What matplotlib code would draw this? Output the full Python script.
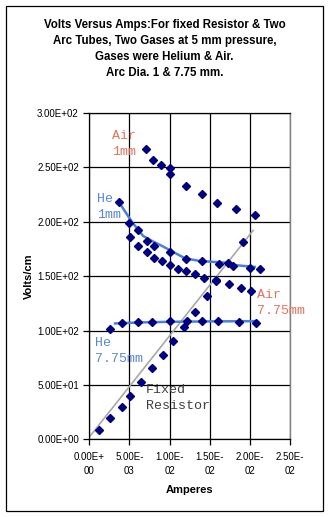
import numpy as np
import matplotlib
matplotlib.use("Agg")
import matplotlib.pyplot as plt
from matplotlib.ticker import FuncFormatter, MultipleLocator
from matplotlib.patches import Rectangle

# values (amperes, volts/cm)
air_1mm_x = [0.00703, 0.00794, 0.00893, 0.01005, 0.01005, 0.01203, 0.01402, 0.01593, 0.01829, 0.0206]
air_1mm_v = [267.1, 257.0, 251.8, 249.7, 244.2, 233.2, 225.8, 216.9, 212.1, 206.6]

he_1mm_x = [0.00364, 0.00496, 0.00608, 0.00716, 0.00803, 0.01005, 0.01203, 0.01402, 0.01613, 0.01795, 0.02002, 0.0213]
he_1mm_v = [217.8, 199.2, 192.8, 182.3, 177.5, 172.2, 166.2, 163.7, 161.6, 159.7, 157.5, 156.6]

air_775_x = [0.00509, 0.00608, 0.00716, 0.00807, 0.00906, 0.01005, 0.01104, 0.01203, 0.01315, 0.01427, 0.01572, 0.01737, 0.01886, 0.02019]
air_775_v = [186.3, 178.1, 172.2, 167.1, 163.7, 160.3, 156.6, 154.5, 151.7, 148.7, 145.6, 142.6, 139.5, 136.8]

he_775_x = [0.00257, 0.00402, 0.00608, 0.00782, 0.01005, 0.01216, 0.01402, 0.016, 0.01861, 0.02077]
he_775_v = [101.5, 106.8, 108.3, 108.3, 108.9, 108.9, 108.9, 108.9, 107.7, 106.5]

fixed_x = [0.00124, 0.00261, 0.00402, 0.00509, 0.0065, 0.00782, 0.00918, 0.0104, 0.01175, 0.01315, 0.01469, 0.0158, 0.01725, 0.01911]
fixed_v = [8.8, 19.3, 29.9, 39.7, 52.3, 65.2, 77.4, 90.2, 103.4, 117.1, 131.8, 146.3, 162.5, 181.4]

# trend lines as drawn in the reference
he_1mm_fit_x = [0.0037, 0.0053, 0.0067, 0.0079, 0.0090, 0.0100, 0.0119, 0.0137, 0.0171, 0.0179, 0.0206]
he_1mm_fit_v = [218, 200, 187, 182, 178, 174, 166.5, 164, 162.3, 160.3, 158.5]
he_775_fit_x = [0.0032, 0.0060, 0.0100, 0.0150, 0.0206]
he_775_fit_v = [106.5, 107.4, 108.0, 108.4, 108.6]
fixed_fit_x = [0.0, 0.0204]
fixed_fit_v = [2.0, 192.0]

title = ("Volts Versus Amps:For fixed Resistor & Two\n"
         "Arc Tubes, Two Gases at 5 mm pressure,\n"
         "Gases were Helium & Air.\n"
         "Arc Dia. 1 & 7.75 mm.")

plt.rcParams['font.family'] = ['Liberation Sans', 'DejaVu Sans']
W, H = 329, 517
fig = plt.figure(figsize=(W / 100, H / 100), dpi=100)

# outer chart border
fig.patches.append(Rectangle((5.5 / W, 1 - 511 / H), 317 / W, 505.5 / H,
                             transform=fig.transFigure, fill=False,
                             edgecolor='black', linewidth=0.9))

left, right, top, bottom = 89.3, 290.0, 113.0, 439.3
ax = fig.add_axes([left / W, 1 - bottom / H, (right - left) / W, (bottom - top) / H])

line_blue = '#4A7FDB'
navy = '#000080'

ax.plot(fixed_fit_x, fixed_fit_v, color='#A8A8A8', lw=1.2, zorder=2)
ax.plot(he_1mm_fit_x, he_1mm_fit_v, color=line_blue, lw=1.8, zorder=2)
ax.plot(he_775_fit_x, he_775_fit_v, color=line_blue, lw=1.8, zorder=2)

for xs, vs in [(air_1mm_x, air_1mm_v), (he_1mm_x, he_1mm_v), (air_775_x, air_775_v),
               (he_775_x, he_775_v), (fixed_x, fixed_v)]:
    ax.plot(xs, vs, ls='none', marker='D', ms=4.3, color=navy, zorder=3, clip_on=False)

ax.set_xlim(0, 0.025)
ax.set_ylim(0, 300)
ax.xaxis.set_major_locator(MultipleLocator(0.005))
ax.yaxis.set_major_locator(MultipleLocator(50))
ax.xaxis.set_major_formatter(FuncFormatter(lambda v, p: (lambda s: s[:6] + "\n" + s[6:])(f"{v:.2E}")))
ax.yaxis.set_major_formatter(FuncFormatter(lambda v, p: f"{v:.2E}"))
ax.grid(True, color='black', lw=0.9, zorder=1)
ax.tick_params(axis='both', direction='out', length=4, width=0.9, color='black', labelsize=7)
ax.tick_params(axis='x', pad=5)
fig.canvas.draw()
for lab in ax.get_xticklabels():
    lab.set_linespacing(1.5)
for s in ['left', 'bottom', 'top']:
    ax.spines[s].set_color('black')
    ax.spines[s].set_linewidth(0.9)
ax.spines['right'].set_color('#808080')
ax.spines['right'].set_linewidth(1.0)

ax.set_xlabel('Amperes', fontsize=8, fontweight='bold', labelpad=6.5)
ax.set_ylabel('Volts/cm', fontsize=8, fontweight='bold', labelpad=2)

mono = 'Liberation Mono'
salmon = '#E5735F'
he_blue = '#5A87D8'
ax.text(0.00282, 284.5, "Air\n1mm", family=mono, fontsize=9.6, color=salmon, va='top', linespacing=1.45)
ax.text(0.00096, 226.8, "He\n1mm", family=mono, fontsize=9.6, color=he_blue, va='top', linespacing=1.45)
ax.text(0.02093, 137.8, "Air\n7.75mm", family=mono, fontsize=9.6, color=salmon, va='top', linespacing=1.45)
ax.text(0.00071, 93.7, "He\n7.75mm", family=mono, fontsize=9.6, color=he_blue, va='top', linespacing=1.45)
ax.text(0.00703, 50.5, "Fixed\nResistor", family=mono, fontsize=9.6, color='#404040', va='top', linespacing=1.45)

fig.text(164.5 / W, 1 - 19 / H, title, ha='center', va='top', fontsize=8.3,
         fontweight='bold', linespacing=1.45)

fig.savefig('out.png', dpi=100)
